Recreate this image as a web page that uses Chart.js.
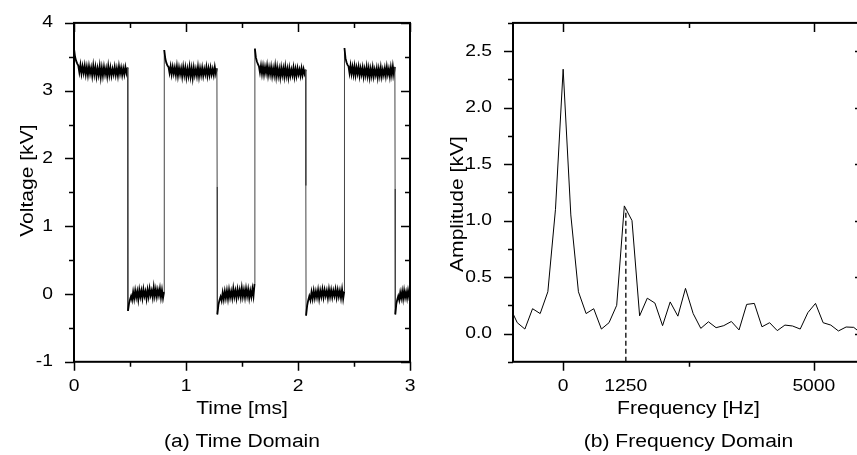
<!doctype html>
<html><head><meta charset="utf-8">
<title>Time and frequency domain</title>
<script src="https://cdn.jsdelivr.net/npm/chart.js"></script>
<style>
  html, body { margin: 0; padding: 0; background: #fff; overflow: hidden; }
  #wrap { position: relative; width: 857px; height: 455px; overflow: hidden; }
  #timeChart { position: absolute; left: 0; top: 0; }
  #freqChart { position: absolute; left: 430px; top: 0; }
</style>
</head><body>
<div id="wrap">
  <canvas id="timeChart" width="430" height="455"></canvas>
  <canvas id="freqChart" width="470" height="455"></canvas>
</div>
<script>
// ---- (a) time domain: square wave ----
const highStart = [0.0, 0.806, 1.615, 2.415];
const highEnd   = [0.478, 1.276, 2.068, 2.865];
const lowStart  = [0.482, 1.280, 2.072, 2.869];
const lowEnd    = [0.804, 1.612, 2.413, 3.0];
const fallKink  = [1.62, 1.58, 1.60, 1.55];

const high1 = [3.62, 3.50, 3.44, 3.40, 3.37, 3.27, 3.38, 3.25, 3.36, 3.26, 3.37, 3.24, 3.35, 3.23, 3.36, 3.25,
               3.34, 3.22, 3.37, 3.24, 3.35, 3.21, 3.33, 3.23, 3.36, 3.20, 3.34, 3.22, 3.35, 3.24, 3.33, 3.21,
               3.36, 3.23, 3.34, 3.22, 3.32, 3.24, 3.35, 3.23, 3.33, 3.22, 3.36, 3.25, 3.34, 3.23, 3.33, 3.24,
               3.35, 3.26, 3.34];
const high2 = [3.60, 3.47, 3.41, 3.37, 3.35, 3.26, 3.36, 3.24, 3.35, 3.25, 3.34, 3.23, 3.36, 3.22, 3.34, 3.24,
               3.33, 3.21, 3.35, 3.23, 3.34, 3.20, 3.32, 3.22, 3.35, 3.21, 3.33, 3.19, 3.34, 3.23, 3.32, 3.22,
               3.35, 3.21, 3.33, 3.23, 3.34, 3.22, 3.32, 3.24, 3.35, 3.22, 3.33, 3.23, 3.34, 3.24, 3.32, 3.23,
               3.35, 3.25, 3.33];
const high3 = [3.62, 3.49, 3.43, 3.39, 3.36, 3.27, 3.37, 3.25, 3.36, 3.24, 3.35, 3.26, 3.37, 3.23, 3.34, 3.24,
               3.35, 3.22, 3.33, 3.23, 3.36, 3.21, 3.34, 3.22, 3.32, 3.20, 3.34, 3.23, 3.33, 3.21, 3.35, 3.22,
               3.32, 3.20, 3.33, 3.22, 3.31, 3.23, 3.34, 3.21, 3.32, 3.22, 3.33, 3.24, 3.31, 3.22, 3.33, 3.23,
               3.32, 3.25, 3.31];
const high4 = [3.63, 3.48, 3.42, 3.38, 3.36, 3.26, 3.37, 3.25, 3.35, 3.24, 3.36, 3.23, 3.34, 3.25, 3.35, 3.22,
               3.33, 3.24, 3.34, 3.21, 3.32, 3.23, 3.35, 3.22, 3.33, 3.20, 3.32, 3.22, 3.34, 3.21, 3.31, 3.23,
               3.33, 3.20, 3.32, 3.22, 3.34, 3.21, 3.31, 3.23, 3.33, 3.22, 3.35, 3.24, 3.32, 3.21, 3.34, 3.23,
               3.36, 3.24, 3.35];
const low1 = [-0.25, -0.14, -0.08, -0.03, -0.09, 0.03, -0.07, 0.05, -0.05, 0.04, -0.08, 0.06, -0.04, 0.05,
              -0.06, 0.07, -0.03, 0.04, -0.07, 0.06, -0.04, 0.08, -0.02, 0.05, -0.05, 0.10, -0.03, 0.07,
              -0.04, 0.06, -0.02, 0.08, -0.05, 0.06, -0.06, 0.03];
const low2 = [-0.30, -0.16, -0.09, -0.04, -0.10, 0.02, -0.08, 0.04, -0.06, 0.05, -0.07, 0.06, -0.05, 0.04,
              -0.06, 0.08, -0.04, 0.05, -0.06, 0.07, -0.03, 0.06, -0.05, 0.09, -0.04, 0.06, -0.05, 0.08,
              -0.03, 0.07, -0.06, 0.05, -0.04, 0.08, -0.03, 0.15];
const low3 = [-0.32, -0.17, -0.09, -0.03, -0.09, 0.03, -0.07, 0.05, -0.06, 0.04, -0.05, 0.06, -0.07, 0.05,
              -0.04, 0.07, -0.05, 0.06, -0.03, 0.05, -0.06, 0.07, -0.04, 0.06, -0.05, 0.05, -0.03, 0.07,
              -0.05, 0.06, -0.04, 0.05, -0.06, 0.07, -0.07, 0.04];
const low4 = [-0.30, -0.15, -0.08, -0.03, -0.09, 0.02, -0.06, 0.04, -0.07, 0.05, -0.05, 0.03, -0.06, 0.05, -0.04, 0.02];
const highVals = [high1, high2, high3, high4];
const lowVals = [low1, low2, low3, low4];

const timeMajor = [0, 1, 2, 3];
const timeMinor = [0.5, 1.5, 2.5];
const voltMajor = [-1, 0, 1, 2, 3, 4];
const voltMinor = [-0.5, 0.5, 1.5, 2.5, 3.5];

// ---- (b) frequency domain ----
const freqs = [-1068, -915, -763, -610, -458, -305, -153, 0, 153, 305, 458, 610, 763, 915, 1068, 1220, 1373,
               1525, 1678, 1830, 1983, 2135, 2288, 2440, 2593, 2745, 2898, 3050, 3203, 3355, 3508, 3660,
               3813, 3965, 4118, 4270, 4423, 4575, 4728, 4880, 5033, 5185, 5338, 5490, 5643, 5795, 5948];
const amps  = [0.24, 0.096, 0.04, 0.22, 0.177, 0.37, 1.1, 2.34, 1.05, 0.37, 0.177, 0.22, 0.04, 0.096, 0.25, 1.13, 1.0,
               0.157, 0.313, 0.27, 0.07, 0.28, 0.154, 0.40, 0.177, 0.046, 0.104, 0.052, 0.07, 0.107, 0.032, 0.258,
               0.267, 0.06, 0.096, 0.026, 0.075, 0.067, 0.04, 0.185, 0.267, 0.096, 0.075, 0.023, 0.058, 0.055, 0.0];
const markerFreq = 1250;
const markerTop = 1.1;
const freqLabels = [0, 1250, 5000];
const freqMajor = [0, 5000];
const freqMinor = [2500];
const ampMajor = [0, 0.5, 1.0, 1.5, 2.0, 2.5];
const ampMinor = [-0.25, 0.25, 0.75, 1.25, 1.75, 2.25, 2.75];

Chart.defaults.font.family = 'Arial, "Liberation Sans", sans-serif';
Chart.defaults.color = '#000';

function addSeg(pts, t0, t1, vals) {
  const n = vals.length;
  vals.forEach((v, i) => pts.push({ x: t0 + (t1 - t0) * i / (n - 1), y: v }));
}
const trace = [];
for (let i = 0; i < highVals.length; i++) {
  addSeg(trace, highStart[i], highEnd[i], highVals[i]);
  trace.push({ x: highEnd[i] + 0.002, y: fallKink[i] });
  addSeg(trace, lowStart[i], lowEnd[i], lowVals[i]);
}

// the source figure uses a wider sans face; widen glyphs around their anchor point
const wideText = {
  id: 'wideText',
  beforeInit(chart) {
    const ctx = chart.ctx;
    const orig = ctx.fillText.bind(ctx);
    ctx.fillText = function (t, x, y) {
      this.save(); this.translate(x, y); this.scale(1.17, 1); orig(t, 0, 0); this.restore();
    };
  }
};

// box frame with major/minor ticks: outward on bottom/left, inward on top/right
const frameTicks = {
  id: 'frameTicks',
  afterDatasetsDraw(chart, args, o) {
    const { ctx, chartArea: a, scales: { x, y } } = chart;
    ctx.save();
    ctx.strokeStyle = '#000';
    ctx.lineWidth = 1.5;
    ctx.beginPath();
    const xt = (vals, len) => vals.forEach(v => {
      const p = Math.round(x.getPixelForValue(v)) + 0.5;
      ctx.moveTo(p, a.bottom); ctx.lineTo(p, a.bottom + len);
      ctx.moveTo(p, a.top); ctx.lineTo(p, a.top + len);
    });
    const yt = (vals, len) => vals.forEach(v => {
      const p = Math.round(y.getPixelForValue(v)) + 0.5;
      ctx.moveTo(a.left, p); ctx.lineTo(a.left - len, p);
      ctx.moveTo(a.right, p); ctx.lineTo(a.right - len, p);
    });
    xt(o.xMajor, 9); xt(o.xMinor, 5);
    yt(o.yMajor, 9); yt(o.yMinor, 5);
    ctx.stroke();
    ctx.lineWidth = 2;
    ctx.strokeRect(a.left, a.top, a.right - a.left, a.bottom - a.top);
    ctx.restore();
  }
};

function baseOptions(opts) {
  return {
    responsive: false,
    animation: false,
    devicePixelRatio: 1,
    layout: { padding: { top: 15, right: opts.padRight, bottom: 0, left: 0 } },
    plugins: {
      legend: { display: false },
      tooltip: { enabled: false },
      title: {
        display: true, position: 'bottom', fullSize: false,
        text: opts.caption, font: { size: 18, weight: 'normal' },
        padding: { top: 6, bottom: 2 }
      },
      frameTicks: opts.frame
    },
    scales: {
      x: {
        type: 'linear', min: opts.xMin, max: opts.xMax,
        grid: { display: false }, border: { display: false },
        ticks: { padding: 7, font: { size: 16.5 }, callback: v => opts.xFmt(v) },
        afterBuildTicks: s => { s.ticks = opts.xLabels.map(v => ({ value: v })); },
        afterFit: s => { s.height = 63.6; },
        title: { display: true, text: opts.xTitle, font: { size: 18 }, padding: { top: 0, bottom: 6 } }
      },
      y: {
        type: 'linear', min: opts.yMin, max: opts.yMax,
        grid: { display: false }, border: { display: false },
        ticks: { padding: 13, font: { size: 16.5 }, callback: v => opts.yFmt(v) },
        afterBuildTicks: s => { s.ticks = opts.yLabels.map(v => ({ value: v })); },
        afterFit: s => { s.width = opts.yWidth; },
        title: { display: true, text: opts.yTitle, font: { size: 18 }, padding: { top: opts.yTitlePad, bottom: 0 } }
      }
    }
  };
}

// steep switching edges are drawn thin and grey, the noisy plateaus solid
const edgeThin = c => Math.abs(c.p1.parsed.y - c.p0.parsed.y) > 1;

new Chart(document.getElementById('timeChart'), {
  type: 'line',
  data: { datasets: [{
    data: trace, borderColor: '#000', borderWidth: 1.8, pointRadius: 0, tension: 0,
    segment: {
      borderWidth: c => edgeThin(c) ? 1 : undefined,
      borderColor: c => edgeThin(c) ? '#444' : undefined
    }
  }] },
  options: baseOptions({
    padRight: 20, caption: '(a) Time Domain',
    xMin: 0, xMax: 3, xLabels: timeMajor, xFmt: v => String(v), xTitle: 'Time [ms]',
    yMin: -1, yMax: 4, yLabels: voltMajor, yFmt: v => String(v), yTitle: '    Voltage [kV]',
    yWidth: 74, yTitlePad: 17,
    frame: { xMajor: timeMajor, xMinor: timeMinor, yMajor: voltMajor, yMinor: voltMinor }
  }),
  plugins: [wideText, frameTicks]
});

new Chart(document.getElementById('freqChart'), {
  type: 'line',
  data: { datasets: [
    { data: freqs.map((f, i) => ({ x: f, y: amps[i] })), borderColor: '#000', borderWidth: 1, pointRadius: 0, tension: 0 },
    { data: [{ x: markerFreq, y: -0.25 }, { x: markerFreq, y: markerTop }], borderColor: '#222', borderWidth: 1.5,
      borderDash: [5, 3], pointRadius: 0 }
  ] },
  options: baseOptions({
    padRight: 36, caption: '(b) Frequency Domain',
    xMin: -1000, xMax: 6000, xLabels: freqLabels, xFmt: v => String(v), xTitle: 'Frequency [Hz]',
    yMin: -0.25, yMax: 2.75, yLabels: ampMajor, yFmt: v => v.toFixed(1), yTitle: 'Amplitude [kV]    ',
    yWidth: 83, yTitlePad: 17,
    frame: { xMajor: freqMajor, xMinor: freqMinor, yMajor: ampMajor, yMinor: ampMinor }
  }),
  plugins: [wideText, frameTicks]
});
</script>
</body></html>
